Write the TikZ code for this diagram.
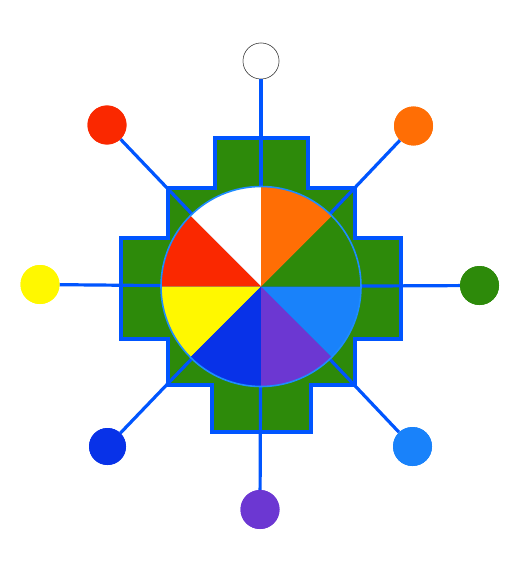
\documentclass[tikz,border=0pt]{standalone}
\definecolor{cred}{RGB}{250,40,0}
\definecolor{corange}{RGB}{255,110,5}
\definecolor{cyellow}{RGB}{255,248,0}
\definecolor{cgreen}{RGB}{45,138,10}
\definecolor{cblue}{RGB}{8,50,232}
\definecolor{cpurple}{RGB}{108,55,210}
\definecolor{clblue}{RGB}{25,130,250}
\definecolor{cline}{RGB}{0,85,255}
\definecolor{cring}{RGB}{30,140,255}
\begin{document}
\begin{tikzpicture}[x=1pt,y=-1pt,
  spoke/.style={draw=cline,line width=3.2pt},
  outline/.style={draw=cline,line width=4pt,line join=miter},
  dot/.style={circle,inner sep=0pt,minimum size=39pt,draw=none}]
\useasboundingbox (0,0) rectangle (512,567);
\coordinate (c) at (261,286.5);
% chakana
\fill[cgreen] (215,138) -- (308,138) -- (308,188) -- (355,188) -- (355,238) -- (401,238) -- (401,339) -- (355,339) -- (355,385) -- (311,385) -- (311,432) -- (212,432) -- (212,385) -- (168,385) -- (168,339) -- (121,339) -- (121,238) -- (168,238) -- (168,188) -- (215,188) -- cycle;
\draw[outline] (215,138) -- (308,138) -- (308,188) -- (355,188) -- (355,238) -- (401,238) -- (401,339) -- (355,339) -- (355,385) -- (311,385) -- (311,432) -- (212,432) -- (212,385) -- (168,385) -- (168,339) -- (121,339) -- (121,238) -- (168,238) -- (168,188) -- (215,188) -- cycle;
% outer dots
\node[dot,fill=white,draw=black!75,line width=0.5pt,minimum size=36pt] (w) at (261,61) {};
\node[dot,fill=cred] (r) at (107,125) {};
\node[dot,fill=corange] (o) at (413.5,126) {};
\node[dot,fill=cyellow] (y) at (40,284.5) {};
\node[dot,fill=cgreen] (g) at (479.5,285.5) {};
\node[dot,fill=cblue,minimum size=37pt] (b) at (107.5,446.5) {};
\node[dot,fill=clblue] (lb) at (412.5,446.5) {};
\node[dot,fill=cpurple] (p) at (260,509.5) {};
% spokes
\foreach \t in {w,r,o,y,g,b,lb,p} \draw[spoke] (c) -- (\t);
% pie
\foreach \a/\col in {90/white,135/cred,180/cyellow,225/cblue,270/cpurple,315/clblue,0/cgreen,45/corange}
  \fill[\col] (c) -- ++(\a:100pt) arc[start angle=\a,end angle=\a+45,radius=100pt] -- cycle;
\draw[cring,line width=1.6pt] (c) circle[radius=100pt];
% redraw dots on top
\node[dot,fill=white,draw=black!75,line width=0.5pt,minimum size=36pt] at (w) {};
\node[dot,fill=cred] at (r) {};
\node[dot,fill=corange] at (o) {};
\node[dot,fill=cyellow] at (y) {};
\node[dot,fill=cgreen] at (g) {};
\node[dot,fill=cblue,minimum size=37pt] at (b) {};
\node[dot,fill=clblue] at (lb) {};
\node[dot,fill=cpurple] at (p) {};
\end{tikzpicture}
\end{document}
